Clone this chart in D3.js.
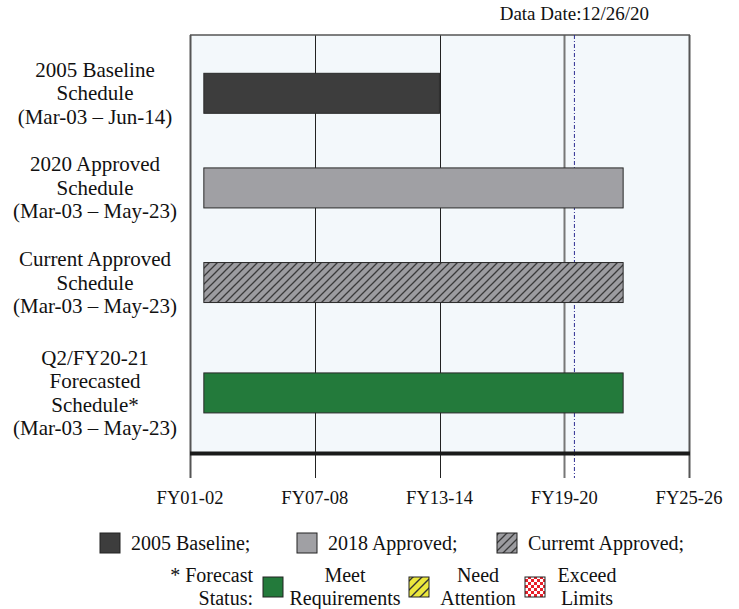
<!DOCTYPE html>
<html>
<head>
<meta charset="utf-8">
<script src="https://cdn.jsdelivr.net/npm/d3@7"></script>
<style>
  body { margin: 0; background: #fff; }
  #main { width: 739px; height: 609px; }
  text { font-family: "Liberation Serif", "Times New Roman", serif; fill: #111; }
</style>
</head>
<body>
<div id="main"></div>
<script>

// schedule rows
const rowLabels = [
    ["2005 Baseline", "Schedule", "(Mar-03 \u2013 Jun-14)"],
    ["2020 Approved", "Schedule", "(Mar-03 \u2013 May-23)"],
    ["Current Approved", "Schedule", "(Mar-03 \u2013 May-23)"],
    ["Q2/FY20-21", "Forecasted", "Schedule*", "(Mar-03 \u2013 May-23)"]
];
const startDates = ["2003-03-01", "2003-03-01", "2003-03-01", "2003-03-01"];
const endDates = ["2014-06-30", "2023-05-01", "2023-05-01", "2023-05-01"];
const barKinds = ["baseline", "approved2018", "current", "meet"];

const tickDates = ["2002-07-01", "2008-07-01", "2014-07-01", "2020-07-01", "2026-07-01"];
const tickLabels = ["FY01-02", "FY07-08", "FY13-14", "FY19-20", "FY25-26"];
const dataDate = "2020-12-26";
const dataDateLabel = "Data Date:12/26/20";

const legendTop = [
    {kind: "baseline", label: "2005 Baseline;"},
    {kind: "approved2018", label: "2018 Approved;"},
    {kind: "current", label: "Curremt Approved;"}
];
const legendStatus = [
    {kind: "meet", lines: ["Meet", "Requirements"]},
    {kind: "attention", lines: ["Need", "Attention"]},
    {kind: "exceed", lines: ["Exceed", "Limits"]}
];

const fills = {
    baseline: "#3d3d3d",
    approved2018: "#a0a0a4",
    current: "url(#hatchGray)",
    meet: "#237a3b",
    attention: "url(#hatchYellow)",
    exceed: "url(#checkRed)"
};

function drawChart() {
    const width = 739, height = 609;
    const svg = d3.select("#main").append("svg")
        .attr("width", width)
        .attr("height", height);

    const plot = {left: 190, right: 689, top: 35, bottom: 453};
    const parse = d3.utcParse("%Y-%m-%d");

    const x = d3.scaleUtc()
        .domain([parse(tickDates[0]), parse(tickDates[tickDates.length - 1])])
        .range([plot.left, plot.right]);

    // rows get room according to how many label lines they carry
    const lineCounts = rowLabels.map(l => l.length);
    const cum = d3.cumsum(lineCounts);
    const yLines = d3.scaleLinear()
        .domain([0, d3.sum(lineCounts)])
        .range([46, 456]);
    const y = i => yLines(cum[i] - lineCounts[i] / 2);

    // patterns
    const defs = svg.append("defs");
    const hg = defs.append("pattern").attr("id", "hatchGray")
        .attr("patternUnits", "userSpaceOnUse").attr("width", 8).attr("height", 8);
    hg.append("rect").attr("width", 8).attr("height", 8).attr("fill", "#9c9ca0");
    hg.append("path").attr("d", "M-2,2 l4,-4 M0,8 l8,-8 M6,10 l4,-4")
        .attr("stroke", "#3a3a3a").attr("stroke-width", 1.3);

    const hy = defs.append("pattern").attr("id", "hatchYellow")
        .attr("patternUnits", "userSpaceOnUse").attr("width", 9).attr("height", 9);
    hy.append("rect").attr("width", 9).attr("height", 9).attr("fill", "#ece83c");
    hy.append("path").attr("d", "M-2,2 l4,-4 M0,9 l9,-9 M7,11 l4,-4")
        .attr("stroke", "#333").attr("stroke-width", 1.4);

    const cr = defs.append("pattern").attr("id", "checkRed")
        .attr("patternUnits", "userSpaceOnUse").attr("width", 6).attr("height", 6);
    cr.append("rect").attr("width", 6).attr("height", 6).attr("fill", "#fff");
    cr.append("rect").attr("width", 3).attr("height", 3).attr("fill", "#e8202a");
    cr.append("rect").attr("x", 3).attr("y", 3).attr("width", 3).attr("height", 3).attr("fill", "#e8202a");

    // plot background
    svg.append("rect")
        .attr("x", plot.left).attr("y", plot.top)
        .attr("width", plot.right - plot.left)
        .attr("height", plot.bottom - plot.top)
        .attr("fill", "#f3f8fb");

    // vertical grid lines + ticks below the axis
    const grid = svg.append("g");
    tickDates.forEach((d, i) => {
        const gx = Math.round(x(parse(d))) + 0.5;
        const isEdge = i === 0 || i === tickDates.length - 1;
        const isCurrent = i === 3;
        grid.append("line")
            .attr("x1", gx).attr("x2", gx)
            .attr("y1", plot.top).attr("y2", 478)
            .attr("stroke", isCurrent ? "#777" : (isEdge ? "#555" : "#222"))
            .attr("stroke-width", isCurrent || isEdge ? 2 : 1);
    });

    // top border
    svg.append("line")
        .attr("x1", plot.left).attr("x2", plot.right + 1)
        .attr("y1", plot.top).attr("y2", plot.top)
        .attr("stroke", "#555").attr("stroke-width", 1.5);

    // data date line
    const dx = x(parse(dataDate));
    svg.append("line")
        .attr("x1", dx).attr("x2", dx)
        .attr("y1", plot.top).attr("y2", 478)
        .attr("stroke", "#2e2e92")
        .attr("stroke-width", 1)
        .attr("stroke-dasharray", "4,2,1,2");

    svg.append("text")
        .attr("x", 649).attr("y", 20)
        .attr("text-anchor", "end")
        .style("font-size", "19px")
        .text(dataDateLabel);

    // bars
    svg.append("g").selectAll("rect")
        .data(d3.range(rowLabels.length))
        .join("rect")
        .attr("x", i => x(parse(startDates[i])))
        .attr("width", i => x(parse(endDates[i])) - x(parse(startDates[i])))
        .attr("y", i => y(i) - 20)
        .attr("height", 40)
        .attr("fill", i => fills[barKinds[i]])
        .attr("stroke", "#2a2a2a")
        .attr("stroke-width", 1);

    // bottom axis line
    svg.append("line")
        .attr("x1", plot.left).attr("x2", plot.right + 1)
        .attr("y1", plot.bottom + 0.5).attr("y2", plot.bottom + 0.5)
        .attr("stroke", "#1a1a1a").attr("stroke-width", 4);

    // row labels
    const lineH = 23.5;
    rowLabels.forEach((lines, i) => {
        const t = svg.append("text")
            .attr("text-anchor", "middle")
            .style("font-size", "21px");
        const first = y(i) - (lines.length - 1) * lineH / 2 + 7;
        lines.forEach((ln, j) => {
            t.append("tspan").attr("x", 95).attr("y", first + j * lineH).text(ln);
        });
    });

    // tick labels
    svg.append("g").selectAll("text")
        .data(tickDates)
        .join("text")
        .attr("x", d => x(parse(d)))
        .attr("y", 504)
        .attr("text-anchor", "middle")
        .style("font-size", "18.5px")
        .text((d, i) => tickLabels[i]);

    // legend row 1
    const legX = [100, 297, 497];
    legendTop.forEach((item, i) => {
        svg.append("rect")
            .attr("x", legX[i]).attr("y", 533)
            .attr("width", 20).attr("height", 20)
            .attr("fill", fills[item.kind])
            .attr("stroke", "#222").attr("stroke-width", 1);
        svg.append("text")
            .attr("x", legX[i] + 31).attr("y", 550)
            .style("font-size", "20px")
            .text(item.label);
    });

    // legend row 2: forecast status
    const st = svg.append("text").attr("text-anchor", "end").style("font-size", "20px");
    st.append("tspan").attr("x", 253).attr("y", 582).text("* Forecast");
    st.append("tspan").attr("x", 253).attr("y", 605).text("Status:");

    const swX = [263, 409, 525];
    const txtX = [345, 478, 587];
    legendStatus.forEach((item, i) => {
        svg.append("rect")
            .attr("x", swX[i]).attr("y", 577)
            .attr("width", 20).attr("height", 20)
            .attr("fill", fills[item.kind])
            .attr("stroke", "#222").attr("stroke-width", 1);
        const t = svg.append("text").attr("text-anchor", "middle").style("font-size", "20px");
        item.lines.forEach((ln, j) => {
            t.append("tspan").attr("x", txtX[i]).attr("y", 582 + j * 23).text(ln);
        });
    });
}

document.addEventListener("DOMContentLoaded", drawChart);
</script>
</body>
</html>
